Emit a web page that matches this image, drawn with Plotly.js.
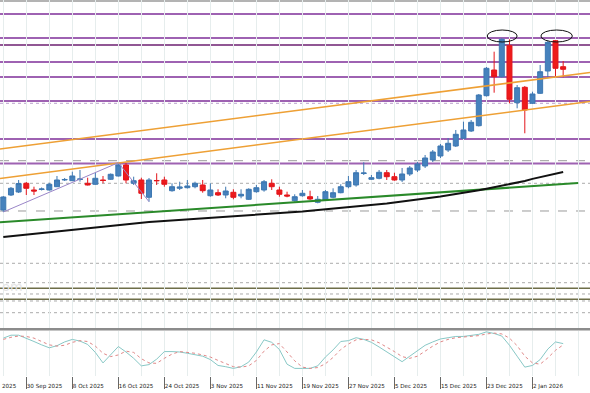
<!DOCTYPE html>
<html>
<head>
<meta charset="utf-8">
<script src="https://cdn.plot.ly/plotly-3.0.1.min.js"></script>
<style>html,body{margin:0;padding:0;background:#fff;}#chart{width:590px;height:393px;}</style>
</head>
<body>
<div id="chart"></div>
<script>
const dates = [
'2025-09-25','2025-09-26','2025-09-29','2025-09-30',
'2025-10-01','2025-10-02','2025-10-03','2025-10-06','2025-10-07','2025-10-08','2025-10-09','2025-10-10',
'2025-10-13','2025-10-14','2025-10-15','2025-10-16','2025-10-17','2025-10-20','2025-10-21','2025-10-22','2025-10-23','2025-10-24',
'2025-10-27','2025-10-28','2025-10-29','2025-10-30','2025-10-31',
'2025-11-03','2025-11-04','2025-11-05','2025-11-06','2025-11-07','2025-11-10','2025-11-11','2025-11-12','2025-11-13','2025-11-14',
'2025-11-17','2025-11-18','2025-11-19','2025-11-20','2025-11-21','2025-11-24','2025-11-25','2025-11-26','2025-11-27','2025-11-28',
'2025-12-01','2025-12-02','2025-12-03','2025-12-04','2025-12-05','2025-12-08','2025-12-09','2025-12-10','2025-12-11','2025-12-12',
'2025-12-15','2025-12-16','2025-12-17','2025-12-18','2025-12-19','2025-12-22','2025-12-23','2025-12-24','2025-12-26',
'2025-12-29','2025-12-30','2025-12-31','2026-01-02','2026-01-05','2026-01-06','2026-01-07','2026-01-08'];

const openP  = [190,205,208,216.7,210,210.5,210,213.3,220,219.3,220.5,216.7,215.7,220,220.7,224,235,216.7,220,202.7,219.5,220,
 209.3,211.7,212.3,213.3,215,204.3,207.3,205,207.7,204,200.7,208.3,210,216.7,210,205,199.3,204.3,203.3,197.7,200,202.7,207.3,213.3,215,
 226.5,220.7,221.7,227.3,223.3,220,226,230,234,240,244,250,254,261.7,269,274.3,304.3,330,323.3,354.3,297.3,312.7,296.7,306.7,329,359.3,333.3];
const highP  = [204,213,220,218,213.3,212.5,217.3,224,222,228.3,230,222.3,227,224,226.5,237.3,237,223.3,222.3,222,226.7,223.3,
 216.7,218.3,220,218.3,220,216.7,210.7,213.3,210.7,210.7,211.7,215,220,220.7,213.3,208.3,205.7,210,209.3,204,210,211.7,215.7,224,230,
 237.7,225,230,230,227.3,232,234,238,245,250,256,262,270,278.3,280,306,333,348.3,361.7,360.7,315,314,308.3,335,359.3,360,339];
const lowP   = [188,204,207,205,205,209.5,209.5,213,219,219,218.3,214.5,215,216.7,220,223.5,216.7,215,201,198.3,215,213.3,
 208.3,210,211.5,211.7,207.3,203.3,204,201.7,200.7,201.7,200,207.3,208.3,210,203.3,202.7,198.3,203.3,200,196.7,199.3,201.7,206.7,211.7,213.3,
 225,220,220.7,220,219.3,218,224,228,232,238,242,248,253,261,268,273.5,303.5,307.3,322.5,296.7,291.7,266.7,296,306,321.7,323.3,322.7];
const closeP = [203,211.7,216.5,211.7,209,211,215.7,220,220.5,224,221,215,221.7,219.5,225.7,235,220,219.3,206.7,220,219.3,215.7,
 213.3,213,214,216.7,209.3,210,205,209,202.7,205.7,210.7,212.3,218.3,213.3,205.7,204,203.3,206.7,201,200.7,208.3,207.3,213.3,218.3,227.3,
 227,222.3,227.7,223.3,220,226,232,236,242,248,254,256.7,265.7,270,277.7,305,331.7,323.3,360.7,300.7,312.3,290,306,328.3,357.7,331.7,330.7];

const maLine = [163,163.8,164.6,165.2,166.2,167.1,167.9,168.8,169.6,170.5,171.3,172.1,173,173.8,174.5,175.1,175.8,176.5,177.2,177.9,
 178.5,179,179.5,180.1,180.6,181.1,181.7,182.1,182.6,183,183.5,184,184.4,185,185.6,186.1,186.7,187.3,187.9,188.5,189.3,190,190.6,191.2,
 191.8,192.4,193.2,194,194.8,195.7,196.5,197.4,198.3,199.3,200.4,201.5,202.6,203.6,204.7,205.9,207.2,208.5,209.8,211.3,212.8,214.3,
 215.9,217.4,219,221.1,223,224.6,226.3,228];

const stochK = [83,90,90,83,75,67,60,65,74,80,76,68,49,24,43,63,50,35,17,20,33,51,51,50,47,43,40,32,18,15,11,15,26,50,79,73,56,21,
 11,11,11,17,38,55,75,77,84,80,73,62,51,39,27,40,53,66,74,81,84,87,87,89,92,98,94,88,66,40,14,18,32,57,74,70];
const stochD = [80,85,88,87,83,75,67,64,66,73,77,75,64,47,39,43,52,49,34,24,23,35,45,51,49,47,43,38,30,22,15,14,17,30,52,67,70,50,
 29,14,11,13,22,37,56,69,79,80,79,72,62,51,39,35,40,53,64,74,80,84,86,88,89,93,95,93,83,65,40,24,21,36,54,67];

const tickDates = ['2025-09-30','2025-10-08','2025-10-16','2025-10-24','2025-11-03','2025-11-11','2025-11-19','2025-11-27',
 '2025-12-05','2025-12-15','2025-12-23','2026-01-02'];
const tickText = ['30 Sep 2025','8 Oct 2025','16 Oct 2025','24 Oct 2025','3 Nov 2025','11 Nov 2025','19 Nov 2025','27 Nov 2025',
 '5 Dec 2025','15 Dec 2025','23 Dec 2025','2 Jan 2026'];

const purpleLevels = [386,362,338,323,299,261,236.5];
const darkPurpleLevels = [355];
const dottedPurpleLevels = [296.7];
const dashedGrayLevels = [239.3,189];
const dottedGrayLevels = [216.7,136.7,117.3,106,99,87.3];
const oliveLevels = [111.7,100.7];

const orangeUpperX = [-0.43,76.5], orangeUpperY = [251,327.5];
const orangeLowerX = [-0.43,76.5], orangeLowerY = [221.5,298.5];
const greenX = [-0.43,74.96], greenY = [177.7,217];
const zigzagX = [0,15,19], zigzagY = [188,237.3,198.3];

const idx = dates.map((d,i)=>i);
const tickIdx = tickDates.map(d=>dates.indexOf(d));

const traces = [
 {type:'scatter',mode:'lines',x:orangeUpperX,y:orangeUpperY,line:{color:'#eea035',width:1.5},hoverinfo:'skip',showlegend:false},
 {type:'scatter',mode:'lines',x:orangeLowerX,y:orangeLowerY,line:{color:'#eea035',width:1.5},hoverinfo:'skip',showlegend:false},
 {type:'scatter',mode:'lines',x:greenX,y:greenY,line:{color:'#2a8a2a',width:2},hoverinfo:'skip',showlegend:false},
 {type:'scatter',mode:'lines',x:zigzagX,y:zigzagY,line:{color:'#9a86c8',width:1},hoverinfo:'skip',showlegend:false},
 {type:'scatter',mode:'lines',x:idx,y:maLine,line:{color:'#111111',width:2},hoverinfo:'skip',showlegend:false},
 {type:'candlestick',x:idx,open:openP,high:highP,low:lowP,close:closeP,whiskerwidth:0,
  increasing:{line:{color:'#3e78b2',width:1},fillcolor:'#4682bd'},
  decreasing:{line:{color:'#e3161c',width:1},fillcolor:'#ee1b1b'},showlegend:false},
 {type:'scatter',mode:'lines',x:idx,y:stochK,yaxis:'y2',line:{color:'#88c8c6',width:1},hoverinfo:'skip',showlegend:false},
 {type:'scatter',mode:'lines',x:idx,y:stochD,yaxis:'y2',line:{color:'#e08888',width:1,dash:'dot'},hoverinfo:'skip',showlegend:false}
];

const shapes = [];
function hline(y,color,width,dash){shapes.push({type:'line',xref:'paper',x0:0,x1:1,yref:'y',y0:y,y1:y,layer:'below',line:{color:color,width:width,dash:dash||'solid'}});}
purpleLevels.forEach(v=>hline(v,'#9e62b2',2));
darkPurpleLevels.forEach(v=>hline(v,'#6c1f70',1.5));
dottedPurpleLevels.forEach(v=>hline(v,'#b9a0cc',1,'dot'));
dashedGrayLevels.forEach(v=>hline(v,'#9a9a9a',1,'dash'));
dottedGrayLevels.forEach(v=>hline(v,'#aaaaaa',1,'dot'));
oliveLevels.forEach(v=>hline(v,'#6e6e48',1.5));
hline(399,'#9a9a9a',1.5);
shapes.push({type:'line',xref:'paper',x0:0,x1:1,yref:'paper',y0:0.1242,y1:0.1242,line:{color:'#8c8c8c',width:2.5}});
shapes.push({type:'circle',xref:'x',yref:'y',x0:63.1,x1:67.0,y0:358,y1:370,line:{color:'#111',width:1}});
shapes.push({type:'circle',xref:'x',yref:'y',x0:70.1,x1:74.2,y0:358,y1:370,line:{color:'#111',width:1}});

const layout = {
 width:590,height:393,
 margin:{l:0,r:0,t:0,b:17},
 paper_bgcolor:'#ffffff',plot_bgcolor:'#ffffff',
 showlegend:false,
 boxgap:0.35,boxgroupgap:0,
 xaxis:{type:'linear',range:[-0.43,76.5],anchor:'y2',rangeslider:{visible:false},
  tickmode:'array',tickvals:tickIdx,ticktext:tickText,ticklabelposition:'outside right',ticklabelstandoff:4,
  ticks:'outside',ticklen:12,tickcolor:'#666',tickwidth:1,
  tickfont:{family:'DejaVu Sans',size:5.6,color:'#222'},
  showgrid:true,gridcolor:'#e6eded',gridwidth:1,
  minor:{tickmode:'linear',tick0:0,dtick:3,showgrid:true,gridcolor:'#e6eded',ticks:''},
  zeroline:false,showline:false},
 yaxis:{domain:[0.1277,1],range:[72,400],showticklabels:false,showgrid:false,zeroline:false,ticks:''},
 yaxis2:{domain:[0,0.1197],range:[-7.1,100],showticklabels:false,showgrid:false,zeroline:false,ticks:''},
 shapes:shapes,
 annotations:[
  {xref:'paper',yref:'paper',x:0,y:0,yshift:-10,xanchor:'left',yanchor:'middle',text:'2025',showarrow:false,
   font:{family:'DejaVu Sans',size:5.6,color:'#222'}},
  {xref:'paper',yref:'y',x:0,y:113,xanchor:'left',yanchor:'middle',text:'om',showarrow:false,
   font:{family:'DejaVu Sans',size:13,color:'#e4e4e4'}}
 ]
};

Plotly.newPlot('chart',traces,layout,{staticPlot:true,displayModeBar:false});
</script>
</body>
</html>
